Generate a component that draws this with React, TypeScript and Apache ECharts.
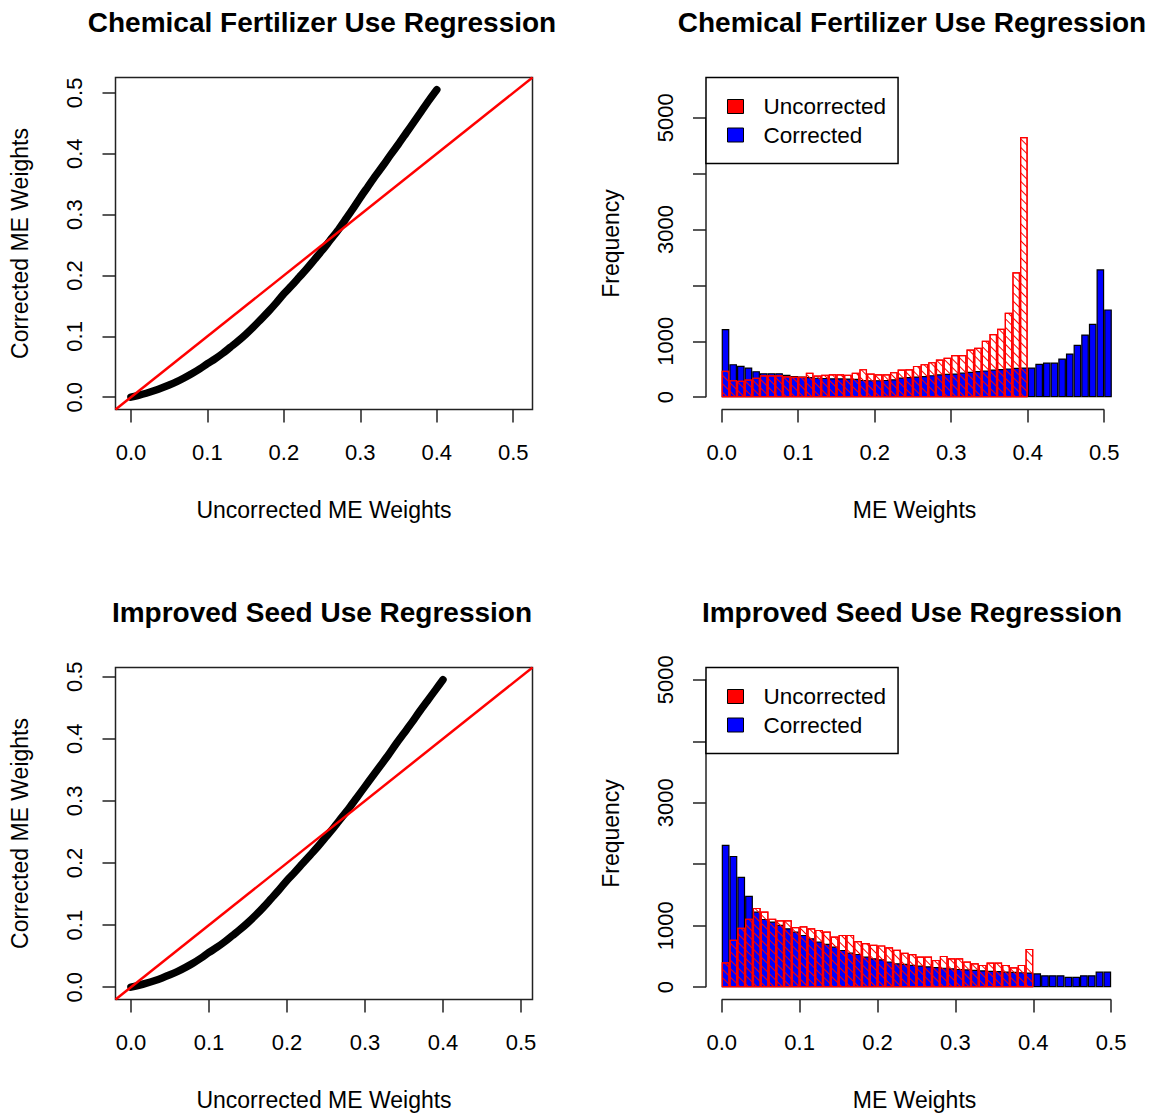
import React, { useEffect, useRef } from 'react';
import * as echarts from 'echarts';

// ---------------- data ----------------
const binWidth = 0.01;
const axisTicks = [0, 0.1, 0.2, 0.3, 0.4, 0.5];
const freqTicks = [0, 1000, 2000, 3000, 4000, 5000];
const freqLabels = [0, 1000, 3000, 5000];
const legendNames = ['Uncorrected', 'Corrected'];

// uncorrected ME weights (x of scatter)
const uncorrectedW = [
  0.00, 0.01, 0.02, 0.03, 0.04, 0.05, 0.06, 0.07, 0.08, 0.09,
  0.10, 0.11, 0.12, 0.13, 0.14, 0.15, 0.16, 0.17, 0.18, 0.19,
  0.20, 0.21, 0.22, 0.23, 0.24, 0.25, 0.26, 0.27, 0.28, 0.29,
  0.30, 0.31, 0.32, 0.33, 0.34, 0.35, 0.36, 0.37, 0.38, 0.39, 0.40,
];
// corrected ME weights, fertilizer regression
const fertCorrectedW = [
  0.000, 0.003, 0.0065, 0.0105, 0.015, 0.020, 0.0255, 0.032, 0.039, 0.0465,
  0.055, 0.063, 0.072, 0.082, 0.092, 0.103, 0.115, 0.128, 0.141, 0.155,
  0.170, 0.183, 0.197, 0.211, 0.226, 0.241, 0.257, 0.273, 0.291, 0.309,
  0.328, 0.346, 0.364, 0.381, 0.399, 0.416, 0.434, 0.452, 0.470, 0.488, 0.505,
];
// corrected ME weights, improved seed regression
const seedCorrectedW = [
  0.000, 0.003, 0.0065, 0.0105, 0.015, 0.020, 0.0255, 0.032, 0.039, 0.047,
  0.056, 0.064, 0.073, 0.083, 0.093, 0.104, 0.116, 0.129, 0.143, 0.157,
  0.172, 0.185, 0.199, 0.213, 0.227, 0.242, 0.257, 0.273, 0.289, 0.306,
  0.323, 0.340, 0.357, 0.374, 0.392, 0.409, 0.426, 0.444, 0.461, 0.478, 0.495,
];

// histogram counts, bins of width 0.01 starting at 0
const fertUncorrectedCounts = [
  472, 305, 293, 317, 346, 394, 394, 394, 376, 364,
  364, 436, 388, 400, 412, 412, 400, 436, 502, 424,
  412, 412, 448, 496, 500, 560, 591, 627, 675, 705,
  753, 753, 854, 884, 1009, 1129, 1225, 1511, 2235, 4654,
];
const fertCorrectedCounts = [
  1219, 591, 562, 532, 466, 430, 430, 430, 400, 380,
  370, 360, 350, 345, 340, 340, 335, 330, 310, 305,
  305, 310, 320, 352, 360, 370, 380, 395, 410, 420,
  424, 440, 455, 470, 480, 495, 505, 515, 525, 532,
  532, 597, 621, 621, 693, 783, 938, 1123, 1314, 2288, 1571,
];
const seedUncorrectedCounts = [
  404, 770, 965, 1115, 1290, 1231, 1115, 1090, 1090, 980,
  990, 959, 932, 905, 824, 851, 851, 750, 720, 689,
  680, 648, 610, 560, 540, 498, 498, 444, 509, 472,
  472, 417, 390, 363, 401, 401, 363, 325, 363, 623,
];
const seedCorrectedCounts = [
  2315, 2136, 1795, 1486, 1230, 1111, 1068, 1014, 959, 905,
  851, 797, 742, 705, 661, 607, 563, 542, 498, 471,
  455, 417, 390, 380, 365, 352, 340, 328, 318, 308,
  298, 290, 282, 275, 268, 262, 255, 250, 245, 240,
  225, 195, 195, 195, 168, 168, 195, 195, 255, 255,
];

// axis ranges (R style 4% extension)
const fertScatterRange = [-0.0202, 0.5252];
const seedScatterRange = [-0.0198, 0.5148];
const fertHistX = [-0.0205, 0.5246];
const seedHistX = [-0.0202, 0.5152];
const fertHistY = [-220, 5720];
const seedHistY = [-200, 5200];

// ---------------- styling ----------------
const FONT = "'Liberation Sans', Arial, Helvetica, sans-serif";
const AX = '#222';
const FS = 22;
const NFS = 23;

const toBars = (counts: number[]) => counts.map((c, i) => [(i + 0.5) * binWidth, c]);
const tick = (vals: number[]) => ({ show: true, inside: false, length: 13, customValues: vals, lineStyle: { color: AX, width: 1.5 } });
const nameStyle = { color: '#000', fontSize: NFS, fontFamily: FONT };

function scatterAxes(grid: number, range: number[]) {
  const x = {
    type: 'value', gridIndex: grid, min: range[0], max: range[1],
    axisLine: { show: false, onZero: false }, splitLine: { show: false },
    axisTick: tick(axisTicks),
    axisLabel: { customValues: axisTicks, formatter: (v: number) => v.toFixed(1), margin: 32, color: '#000', fontSize: FS, fontFamily: FONT },
    name: 'Uncorrected ME Weights', nameLocation: 'middle', nameGap: 89, nameTextStyle: nameStyle,
  };
  const y = {
    type: 'value', gridIndex: grid, min: range[0], max: range[1],
    axisLine: { show: false, onZero: false }, splitLine: { show: false },
    axisTick: tick(axisTicks),
    axisLabel: { customValues: axisTicks, formatter: (v: number) => v.toFixed(1), rotate: 90, margin: 30, color: '#000', fontSize: FS, fontFamily: FONT },
    name: 'Corrected ME Weights', nameLocation: 'middle', nameGap: 84, nameTextStyle: nameStyle,
  };
  return { x, y };
}

function histAxes(grid: number, xr: number[], yr: number[]) {
  const x = {
    type: 'value', gridIndex: grid, min: xr[0], max: xr[1],
    axisLine: { show: false, onZero: false }, splitLine: { show: false },
    axisTick: tick(axisTicks),
    axisLabel: { customValues: axisTicks, formatter: (v: number) => v.toFixed(1), margin: 32, color: '#000', fontSize: FS, fontFamily: FONT },
    name: 'ME Weights', nameLocation: 'middle', nameGap: 89, nameTextStyle: nameStyle,
  };
  const y = {
    type: 'value', gridIndex: grid, min: yr[0], max: yr[1],
    axisLine: { show: false, onZero: false }, splitLine: { show: false },
    axisTick: tick(freqTicks),
    axisLabel: { customValues: freqLabels, formatter: (v: number) => String(v), rotate: 90, margin: 30, color: '#000', fontSize: FS, fontFamily: FONT },
    name: 'Frequency', nameLocation: 'middle', nameGap: 84, nameTextStyle: nameStyle,
  };
  return { x, y };
}

function scatterSeries(axisIdx: number, corrected: number[], range: number[]) {
  return [
    {
      name: 'ME weights', type: 'line', xAxisIndex: axisIdx, yAxisIndex: axisIdx,
      data: uncorrectedW.map((x, i) => [x, corrected[i]]),
      showSymbol: false, symbol: 'none', silent: true, smooth: 0.3,
      lineStyle: { color: '#000', width: 7.5, cap: 'round', join: 'round' },
    },
    {
      name: '45 degree line', type: 'line', xAxisIndex: axisIdx, yAxisIndex: axisIdx,
      data: range.map((v) => [v, v]),
      showSymbol: false, symbol: 'none', silent: true,
      lineStyle: { color: '#ff0000', width: 2.5 },
    },
  ];
}

function histSeries(axisIdx: number, corrected: number[], uncorrected: number[], xr: number[], yr: number[]) {
  return [
    {
      name: 'Corrected', type: 'bar', xAxisIndex: axisIdx, yAxisIndex: axisIdx,
      data: toBars(corrected), barWidth: '100%', barGap: '-100%', silent: true,
      itemStyle: { color: '#0000ff', borderColor: '#000', borderWidth: 1.2 },
    },
    {
      name: 'Uncorrected', type: 'bar', xAxisIndex: axisIdx, yAxisIndex: axisIdx,
      data: toBars(uncorrected), barWidth: '100%', barGap: '-100%', silent: true,
      itemStyle: {
        color: 'rgba(0,0,0,0)', borderColor: '#ff0000', borderWidth: 1.2,
        decal: { symbol: 'rect', color: '#ff0000', backgroundColor: null, dashArrayX: [1, 0], dashArrayY: [1, 5], rotation: Math.PI / 4, symbolSize: 1 },
      },
    },
    {
      name: 'x axis line', type: 'line', xAxisIndex: axisIdx, yAxisIndex: axisIdx,
      data: [[axisTicks[0], yr[0]], [axisTicks[axisTicks.length - 1], yr[0]]],
      showSymbol: false, symbol: 'none', silent: true, clip: false,
      lineStyle: { color: AX, width: 1.5 },
    },
    {
      name: 'y axis line', type: 'line', xAxisIndex: axisIdx, yAxisIndex: axisIdx,
      data: [[xr[0], freqTicks[0]], [xr[0], freqTicks[freqTicks.length - 1]]],
      showSymbol: false, symbol: 'none', silent: true, clip: false,
      lineStyle: { color: AX, width: 1.5 },
    },
  ];
}

function legendAt(top: number) {
  return {
    show: true, orient: 'vertical', left: 706, top, selectedMode: false,
    itemWidth: 16, itemHeight: 14, itemGap: 5.5,
    padding: [17.5, 12, 17, 21],
    borderColor: '#000', borderWidth: 1.5, backgroundColor: '#fff',
    textStyle: { fontSize: 22.5, color: '#000', fontFamily: FONT, padding: [0, 0, 0, 15] },
    data: [
      { name: legendNames[0], icon: 'rect', itemStyle: { color: '#ff0000', borderColor: '#000', borderWidth: 1, decal: 'none' } },
      { name: legendNames[1], icon: 'rect', itemStyle: { color: '#0000ff', borderColor: '#000', borderWidth: 1, decal: 'none' } },
    ],
  };
}

export default function App() {
  const ref = useRef<HTMLDivElement>(null);
  useEffect(() => {
    if (!ref.current) return;
    const chart = echarts.init(ref.current, undefined, { renderer: 'svg' });
    const a0 = scatterAxes(0, fertScatterRange);
    const a1 = histAxes(1, fertHistX, fertHistY);
    const a2 = scatterAxes(2, seedScatterRange);
    const a3 = histAxes(3, seedHistX, seedHistY);
    const titleStyle = { color: '#000', fontSize: 28, fontWeight: 'bold', fontFamily: FONT };
    const option: any = {
      animation: false,
      backgroundColor: '#fff',
      title: [
        { text: 'Chemical Fertilizer Use Regression', left: 322, top: 8, padding: 0, textAlign: 'center', textStyle: titleStyle },
        { text: 'Chemical Fertilizer Use Regression', left: 912, top: 8, padding: 0, textAlign: 'center', textStyle: titleStyle },
        { text: 'Improved Seed Use Regression', left: 322, top: 598, padding: 0, textAlign: 'center', textStyle: titleStyle },
        { text: 'Improved Seed Use Regression', left: 912, top: 598, padding: 0, textAlign: 'center', textStyle: titleStyle },
      ],
      legend: [legendAt(77.5), legendAt(667.5)],
      grid: [
        { left: 115.5, top: 77.5, width: 417, height: 332, show: true, borderColor: AX, borderWidth: 1.5, backgroundColor: 'transparent' },
        { left: 706, top: 77.5, width: 417, height: 332 },
        { left: 115.5, top: 667.5, width: 417, height: 332, show: true, borderColor: AX, borderWidth: 1.5, backgroundColor: 'transparent' },
        { left: 706, top: 667.5, width: 417, height: 332 },
      ],
      xAxis: [a0.x, a1.x, a2.x, a3.x],
      yAxis: [a0.y, a1.y, a2.y, a3.y],
      series: [
        ...scatterSeries(0, fertCorrectedW, fertScatterRange),
        ...histSeries(1, fertCorrectedCounts, fertUncorrectedCounts, fertHistX, fertHistY),
        ...scatterSeries(2, seedCorrectedW, seedScatterRange),
        ...histSeries(3, seedCorrectedCounts, seedUncorrectedCounts, seedHistX, seedHistY),
      ],
    };
    chart.setOption(option);
    return () => chart.dispose();
  }, []);
  return <div ref={ref} style={{ position: 'absolute', left: 0, top: 0, width: 1151, height: 1114 }} />;
}
